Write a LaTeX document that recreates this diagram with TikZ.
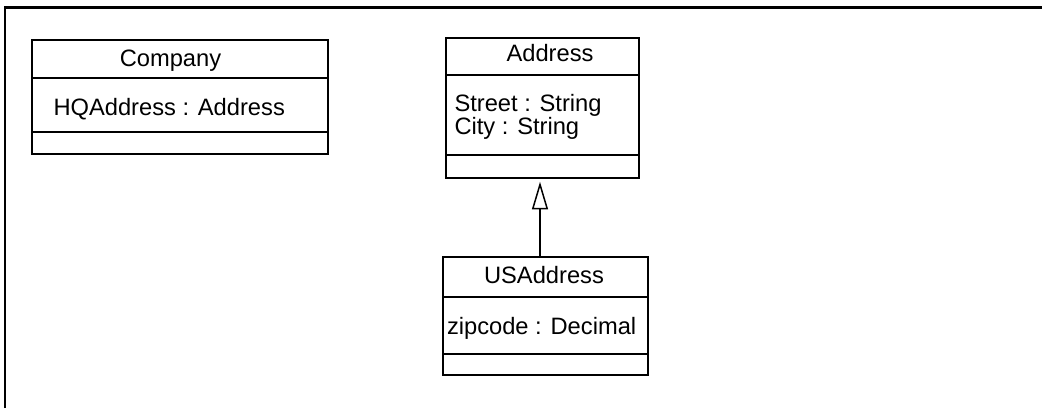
\documentclass[tikz,border=0pt]{standalone}
\usepackage{fontspec}
\setmainfont{Liberation Sans}
\usetikzlibrary{arrows.meta,calc}
\begin{document}
\begin{tikzpicture}[x=1pt,y=-1pt,
  classbox/.style={draw, line width=1.8pt, rectangle, inner sep=0pt, outer sep=0pt},
  lbl/.style={inner sep=0pt, outer sep=0pt, font=\fontsize{23.7}{23.5}\selectfont},
  divider/.style={line width=1.8pt},
  frameline/.style={line width=2.4pt},
  gen/.style={line width=1.8pt, shorten >=3.5pt, -{Triangle[open, length=27.6pt, width=16pt, line width=1.5pt]}}
]
\useasboundingbox (0,0) rectangle (1042,408);
\draw[frameline, line join=miter] (5,408) -- (5,7.3) -- (1042,7.3);

% Company
\node[classbox, minimum width=296pt, minimum height=114.3pt] (company) at (180.3,97.15) {};
\draw[divider] (32.3,78.3) -- (328.3,78.3);
\draw[divider] (32.3,131.7) -- (328.3,131.7);
\node[lbl, anchor=base] (companyname) at (170.5,66) {Company};
\node[lbl, anchor=base west] (companyattr) at (53.5,115) {HQAddress : Address};

% Address
\node[classbox, minimum width=193.3pt, minimum height=140.6pt] (address) at (542.65,108) {};
\draw[divider] (446,75) -- (639.3,75);
\draw[divider] (446,155) -- (639.3,155);
\node[lbl, anchor=base] (addressname) at (550,61.7) {Address};
\node[lbl, anchor=base west] (addressattr) at (454.5,111) {Street : String};
\node[lbl, anchor=base west] (addressattr2) at (454.5,134.5) {City : String};

% USAddress
\node[classbox, minimum width=205.3pt, minimum height=117.4pt] (usaddress) at (545.35,316) {};
\draw[divider] (442.7,297.3) -- (648,297.3);
\draw[divider] (442.7,353.7) -- (648,353.7);
\node[lbl, anchor=base] (usaddressname) at (544,283.3) {USAddress};
\node[lbl, anchor=base west] (usaddressattr) at (447,334) {zipcode : Decimal};

% Generalization
\coordinate (gx) at (540,0);
\draw[gen] (usaddress.north -| gx) -- (address.south -| gx);
\end{tikzpicture}
\end{document}
